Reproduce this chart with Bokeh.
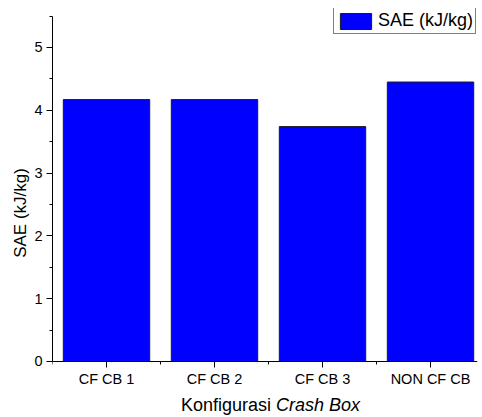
from bokeh.plotting import figure
from bokeh.models import (Range1d, FixedTicker, SingleIntervalTicker, Legend,
                          LegendItem, Label, ColumnDataSource)
from bokeh.embed import file_html
from bokeh.resources import INLINE

# ---- data ----
categories = ["CF CB 1", "CF CB 2", "CF CB 3", "NON CF CB"]
sae_values = [4.17, 4.17, 3.74, 4.45]
series_name = "SAE (kJ/kg)"
y_title = "SAE (kJ/kg)"
x_title_plain = "Konfigurasi"
x_title_italic = "Crash Box"
y_axis_max = 5.5

positions = list(range(1, len(categories) + 1))
src = ColumnDataSource(dict(x=positions, top=sae_values, name=categories))

FONT = "Liberation Sans"

# frame spans from y=8 to canvas bottom; y=0 sits 56px above the bottom
p = figure(width=482, height=417, output_backend="svg", toolbar_location=None,
           x_range=Range1d(0.5, 4.435), y_range=Range1d(-0.892, 5.621),
           min_border_left=52, min_border_right=5, min_border_top=8,
           min_border_bottom=0)
p.outline_line_color = None
p.grid.visible = False
p.background_fill_color = "white"
p.border_fill_color = "white"

r = p.vbar(x="x", top="top", width=0.8, bottom=0, source=src,
           fill_color="#0000FF", line_color="#1a1a1a", line_width=1)

# x axis drawn at y = 0
p.xaxis.fixed_location = 0
p.xaxis.ticker = FixedTicker(ticks=positions,
                             minor_ticks=[v - 0.5 for v in positions])
p.xaxis.major_label_overrides = {v: c for v, c in zip(positions, categories)}

# y axis
p.yaxis.ticker = SingleIntervalTicker(interval=1, num_minor_ticks=2)
p.yaxis.bounds = (0, y_axis_max)
p.yaxis.axis_label = y_title
p.yaxis.axis_label_text_font_size = "17px"
p.yaxis.axis_label_text_font = FONT
p.yaxis.axis_label_text_font_style = "normal"
p.yaxis.axis_label_text_color = "black"
p.yaxis.axis_label_standoff = 1

for ax in (p.xaxis, p.yaxis):
    ax.axis_line_color = "black"
    ax.axis_line_width = 1
    ax.major_tick_line_color = "black"
    ax.minor_tick_line_color = "black"
    ax.major_tick_out = 6
    ax.major_tick_in = 0
    ax.minor_tick_out = 3
    ax.minor_tick_in = 0
    ax.major_label_text_font = FONT
    ax.major_label_text_font_size = "14.5px"
    ax.major_label_text_color = "black"
    ax.major_label_standoff = 4

# legend
legend = Legend(items=[LegendItem(label=series_name, renderers=[r])],
                location=(281, 383), border_line_color="black",
                border_line_width=1, padding=2, margin=0, spacing=0,
                glyph_width=39, glyph_height=20, label_standoff=3,
                label_text_font=FONT, label_text_font_size="18px",
                label_text_color="black", background_fill_alpha=1)
p.add_layout(legend, "center")

# x title with italic part
p.add_layout(Label(x=218.5, y=13, x_units="screen", y_units="screen",
                   text=x_title_plain, text_align="right",
                   text_baseline="alphabetic", text_font=FONT,
                   text_font_size="18px", text_color="black"))
p.add_layout(Label(x=223.5, y=13, x_units="screen", y_units="screen",
                   text=x_title_italic, text_align="left",
                   text_baseline="alphabetic", text_font=FONT,
                   text_font_size="18px", text_font_style="italic",
                   text_color="black"))

open("out.html", "w").write(file_html(p, INLINE))
